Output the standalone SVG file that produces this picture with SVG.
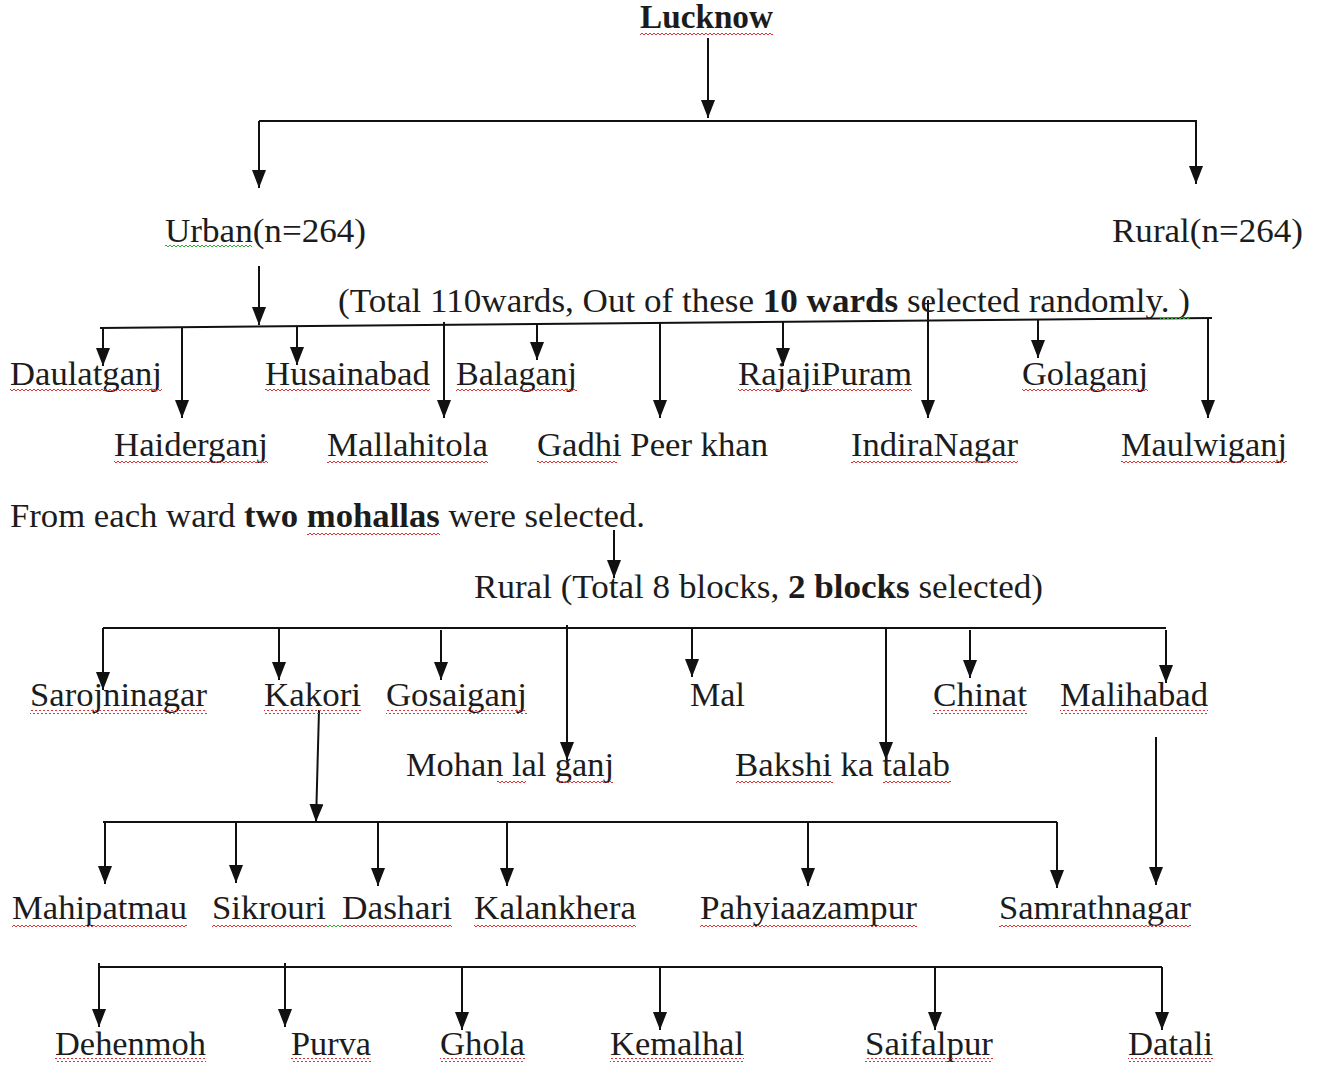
<svg xmlns="http://www.w3.org/2000/svg" width="1317" height="1065" viewBox="0 0 1317 1065">
<style>
.t{font-family:'Liberation Serif','Times New Roman','DejaVu Serif',serif;font-size:33px;fill:#1c1c1c}
.b{font-weight:bold}
.ln{stroke:#111;stroke-width:2;fill:none}
.ar{stroke:#111;stroke-width:2;fill:none;marker-end:url(#ah)}
.sr{fill:url(#wr)}
.sg{fill:url(#wg)}
</style>
<defs>
<marker id="ah" viewBox="0 0 18 14" refX="18" refY="7" markerWidth="18" markerHeight="14" markerUnits="userSpaceOnUse" orient="auto" preserveAspectRatio="none">
<path d="M0,0 L18,7 L0,14 z" fill="#111"/>
</marker>
<pattern id="wr" x="0" y="0" width="4" height="4" patternUnits="userSpaceOnUse">
<path d="M0,3 L2,1 L4,3" stroke="#d33" stroke-width="1" fill="none"/>
</pattern>
<pattern id="wg" x="0" y="0" width="4" height="4" patternUnits="userSpaceOnUse">
<path d="M0,3 L2,1 L4,3" stroke="#3a3" stroke-width="1" fill="none"/>
</pattern>
</defs>
<rect width="1317" height="1065" fill="#fff"/>

<g id="connectors">
<path class="ar" d="M708,38 V118"/>
<path class="ln" d="M259,121 H1196"/>
<path class="ar" d="M259,121 V188"/>
<path class="ar" d="M1196,120 V184"/>
<path class="ar" d="M259,266 V325"/>
<path class="ln" d="M100,328 L1212,318"/>
<path class="ar" d="M103,328 V366"/>
<path class="ar" d="M182,327 V418"/>
<path class="ar" d="M297,326 V365"/>
<path class="ar" d="M444,322 V418"/>
<path class="ar" d="M537,324 V360"/>
<path class="ar" d="M660,323 V418"/>
<path class="ar" d="M783,322 V366"/>
<path class="ar" d="M928,300 V418"/>
<path class="ar" d="M1038,320 V358"/>
<path class="ar" d="M1208,318 V418"/>
<path class="ar" d="M614,530 V578"/>
<path class="ln" d="M103,628 H1166"/>
<path class="ar" d="M103,628 V690"/>
<path class="ar" d="M279,628 V680"/>
<path class="ar" d="M441,630 V680"/>
<path class="ar" d="M567,625 V760"/>
<path class="ar" d="M692,628 V677"/>
<path class="ar" d="M886,627 V760"/>
<path class="ar" d="M970,630 V678"/>
<path class="ar" d="M1166,630 V683"/>
<path class="ar" d="M319,710 L316,822"/>
<path class="ln" d="M103,822 H1057"/>
<path class="ar" d="M105,822 V884"/>
<path class="ar" d="M236,822 V883"/>
<path class="ar" d="M378,822 V886"/>
<path class="ar" d="M507,822 V886"/>
<path class="ar" d="M808,822 V886"/>
<path class="ar" d="M1057,822 V888"/>
<path class="ar" d="M1156,737 V885"/>
<path class="ln" d="M99,967 H1162"/>
<path class="ar" d="M99,963 V1027"/>
<path class="ar" d="M285,963 V1027"/>
<path class="ar" d="M462,967 V1030"/>
<path class="ar" d="M660,967 V1030"/>
<path class="ar" d="M935,967 V1030"/>
<path class="ar" d="M1162,967 V1030"/>
</g>

<g id="n-lucknow"><text class="t b" x="640" y="28" textLength="133" lengthAdjust="spacingAndGlyphs">Lucknow</text><rect class="sr" x="640" y="31" width="133" height="4"/></g>
<g id="n-urban"><text class="t" x="165" y="242" textLength="201" lengthAdjust="spacingAndGlyphs">Urban(n=264)</text><rect class="sg" x="165" y="245" width="87" height="4"/></g>
<g id="n-rural"><text class="t" x="1112" y="242" textLength="191" lengthAdjust="spacingAndGlyphs">Rural(n=264)</text></g>
<g id="n-wards-note"><text class="t" x="338" y="312" textLength="852" lengthAdjust="spacingAndGlyphs">(Total 110wards, Out of these <tspan class="b">10 wards</tspan> selected randomly. )</text><rect class="sg" x="1160" y="315" width="30" height="4"/></g>

<g id="n-daulatganj"><text class="t" x="10" y="385" textLength="152" lengthAdjust="spacingAndGlyphs">Daulatganj</text><rect class="sr" x="10" y="389" width="152" height="4"/></g>
<g id="n-haiderganj"><text class="t" x="114" y="456" textLength="154" lengthAdjust="spacingAndGlyphs">Haiderganj</text><rect class="sr" x="114" y="460" width="154" height="4"/></g>
<g id="n-husainabad"><text class="t" x="265" y="385" textLength="165" lengthAdjust="spacingAndGlyphs">Husainabad</text><rect class="sr" x="265" y="389" width="165" height="4"/></g>
<g id="n-mallahitola"><text class="t" x="327" y="456" textLength="161" lengthAdjust="spacingAndGlyphs">Mallahitola</text><rect class="sr" x="327" y="460" width="161" height="4"/></g>
<g id="n-balaganj"><text class="t" x="456" y="385" textLength="121" lengthAdjust="spacingAndGlyphs">Balaganj</text><rect class="sr" x="456" y="389" width="121" height="4"/></g>
<g id="n-gadhi"><text class="t" x="537" y="456" textLength="231" lengthAdjust="spacingAndGlyphs">Gadhi Peer khan</text><rect class="sr" x="537" y="460" width="80" height="4"/></g>
<g id="n-rajajipuram"><text class="t" x="738" y="385" textLength="174" lengthAdjust="spacingAndGlyphs">RajajiPuram</text><rect class="sr" x="738" y="389" width="174" height="4"/></g>
<g id="n-indiranagar"><text class="t" x="851" y="456" textLength="167" lengthAdjust="spacingAndGlyphs">IndiraNagar</text><rect class="sr" x="851" y="460" width="167" height="4"/></g>
<g id="n-golaganj"><text class="t" x="1022" y="385" textLength="126" lengthAdjust="spacingAndGlyphs">Golaganj</text><rect class="sr" x="1022" y="389" width="126" height="4"/></g>
<g id="n-maulwiganj"><text class="t" x="1121" y="456" textLength="166" lengthAdjust="spacingAndGlyphs">Maulwiganj</text><rect class="sr" x="1121" y="460" width="166" height="4"/></g>

<g id="n-mohallas"><text class="t" x="10" y="527" textLength="635" lengthAdjust="spacingAndGlyphs">From each ward <tspan class="b">two mohallas</tspan> were selected.</text><rect class="sr" x="307" y="531" width="133" height="4"/></g>
<g id="n-rural-blocks"><text class="t" x="474" y="598" textLength="569" lengthAdjust="spacingAndGlyphs">Rural (Total 8 blocks, <tspan class="b">2 blocks</tspan> selected)</text></g>

<g id="n-sarojninagar"><text class="t" x="30" y="706" textLength="177" lengthAdjust="spacingAndGlyphs">Sarojninagar</text><rect class="sr" x="30" y="710" width="177" height="4"/></g>
<g id="n-kakori"><text class="t" x="264" y="706" textLength="97" lengthAdjust="spacingAndGlyphs">Kakori</text><rect class="sr" x="264" y="710" width="97" height="4"/></g>
<g id="n-gosaiganj"><text class="t" x="386" y="706" textLength="141" lengthAdjust="spacingAndGlyphs">Gosaiganj</text><rect class="sr" x="386" y="710" width="141" height="4"/></g>
<g id="n-mohanlalganj"><text class="t" x="406" y="776" textLength="208" lengthAdjust="spacingAndGlyphs">Mohan lal ganj</text><rect class="sr" x="497" y="780" width="29" height="4"/><rect class="sr" x="558" y="780" width="55" height="4"/></g>
<g id="n-mal"><text class="t" x="690" y="706" textLength="55" lengthAdjust="spacingAndGlyphs">Mal</text></g>
<g id="n-bakshi"><text class="t" x="735" y="776" textLength="215" lengthAdjust="spacingAndGlyphs">Bakshi ka talab</text><rect class="sr" x="736" y="780" width="97" height="4"/><rect class="sr" x="883" y="780" width="68" height="4"/></g>
<g id="n-chinat"><text class="t" x="933" y="706" textLength="94" lengthAdjust="spacingAndGlyphs">Chinat</text><rect class="sr" x="933" y="710" width="94" height="4"/></g>
<g id="n-malihabad"><text class="t" x="1060" y="706" textLength="148" lengthAdjust="spacingAndGlyphs">Malihabad</text><rect class="sr" x="1060" y="710" width="148" height="4"/></g>

<g id="n-mahipatmau"><text class="t" x="12" y="919" textLength="175" lengthAdjust="spacingAndGlyphs">Mahipatmau</text><rect class="sr" x="12" y="923" width="175" height="4"/></g>
<g id="n-sikrouri"><text class="t" x="212" y="919" textLength="114" lengthAdjust="spacingAndGlyphs">Sikrouri</text><rect class="sr" x="212" y="923" width="114" height="4"/><rect class="sg" x="326" y="923" width="16" height="4"/></g>
<g id="n-dashari"><text class="t" x="342" y="919" textLength="110" lengthAdjust="spacingAndGlyphs">Dashari</text><rect class="sr" x="342" y="923" width="110" height="4"/></g>
<g id="n-kalankhera"><text class="t" x="474" y="919" textLength="162" lengthAdjust="spacingAndGlyphs">Kalankhera</text><rect class="sr" x="474" y="923" width="162" height="4"/></g>
<g id="n-pahyiaazampur"><text class="t" x="700" y="919" textLength="217" lengthAdjust="spacingAndGlyphs">Pahyiaazampur</text><rect class="sr" x="700" y="923" width="217" height="4"/></g>
<g id="n-samrathnagar"><text class="t" x="999" y="919" textLength="192" lengthAdjust="spacingAndGlyphs">Samrathnagar</text><rect class="sr" x="999" y="923" width="192" height="4"/></g>

<g id="n-dehenmoh"><text class="t" x="55" y="1055" textLength="151" lengthAdjust="spacingAndGlyphs">Dehenmoh</text><rect class="sr" x="55" y="1058" width="151" height="4"/></g>
<g id="n-purva"><text class="t" x="291" y="1055" textLength="80" lengthAdjust="spacingAndGlyphs">Purva</text><rect class="sr" x="291" y="1058" width="80" height="4"/></g>
<g id="n-ghola"><text class="t" x="440" y="1055" textLength="85" lengthAdjust="spacingAndGlyphs">Ghola</text><rect class="sr" x="440" y="1058" width="85" height="4"/></g>
<g id="n-kemalhal"><text class="t" x="610" y="1055" textLength="134" lengthAdjust="spacingAndGlyphs">Kemalhal</text><rect class="sr" x="610" y="1058" width="134" height="4"/></g>
<g id="n-saifalpur"><text class="t" x="865" y="1055" textLength="128" lengthAdjust="spacingAndGlyphs">Saifalpur</text><rect class="sr" x="865" y="1058" width="128" height="4"/></g>
<g id="n-datali"><text class="t" x="1128" y="1055" textLength="85" lengthAdjust="spacingAndGlyphs">Datali</text><rect class="sr" x="1128" y="1058" width="85" height="4"/></g>
</svg>
